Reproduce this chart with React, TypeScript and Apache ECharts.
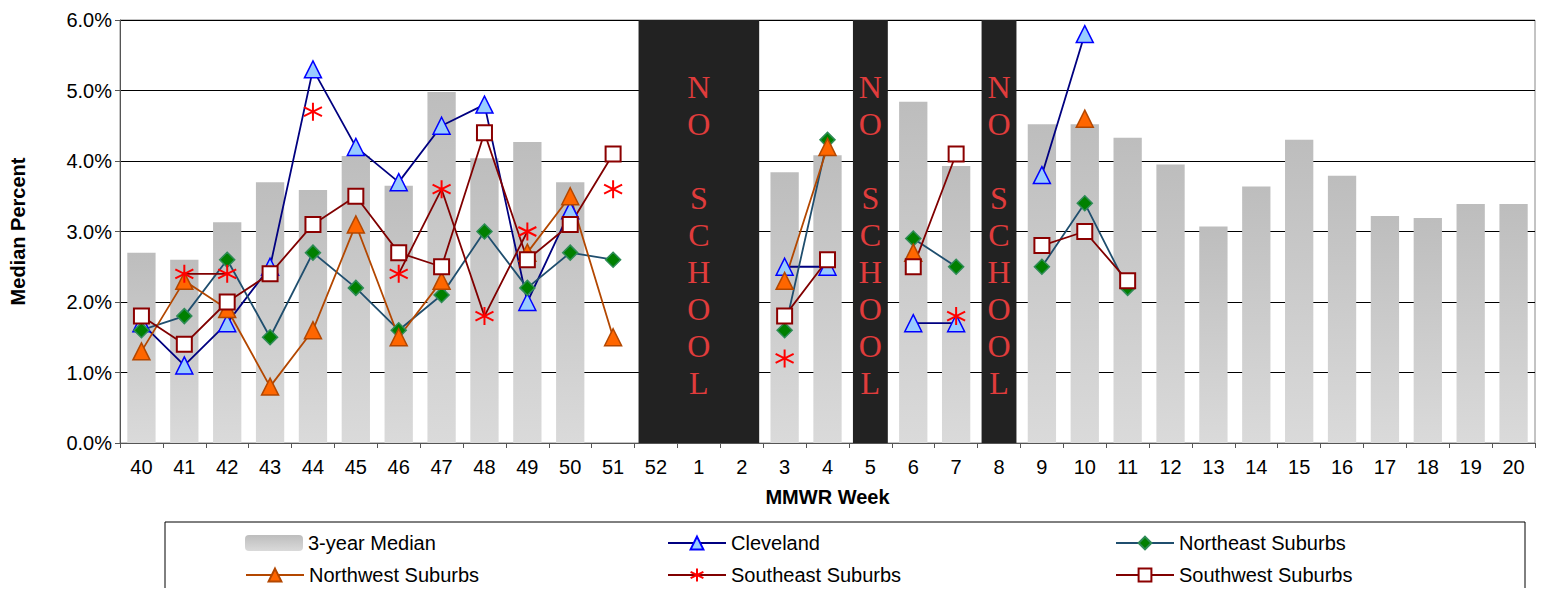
import React, { useEffect, useRef } from "react";
import * as echarts from "echarts";

const weeks = ["40","41","42","43","44","45","46","47","48","49","50","51","52","1","2","3","4","5","6","7","8","9","10","11","12","13","14","15","16","17","18","19","20"];
const median = [2.7,2.6,3.13,3.7,3.59,4.07,3.65,4.98,4.04,4.27,3.7,null,null,null,null,3.84,4.08,null,4.84,3.93,null,4.52,4.52,4.33,3.95,3.07,3.64,4.3,3.79,3.22,3.19,3.39,3.39];
const cleveland = [1.7,1.1,1.7,2.5,5.3,4.2,3.7,4.5,4.8,2.0,3.3,null,null,null,null,2.5,2.5,null,1.7,1.7,null,3.8,5.8,null,null,null,null,null,null,null,null,null,null];
const northeast = [1.6,1.8,2.6,1.5,2.7,2.2,1.6,2.1,3.0,2.2,2.7,2.6,null,null,null,1.6,4.3,null,2.9,2.5,null,2.5,3.4,2.2,null,null,null,null,null,null,null,null,null];
const northwest = [1.3,2.3,1.9,0.8,1.6,3.1,1.5,2.3,null,2.7,3.5,1.5,null,null,null,2.3,4.2,null,2.7,null,null,null,4.6,null,null,null,null,null,null,null,null,null,null];
const southeast = [null,2.4,2.4,null,4.7,null,2.4,3.6,1.8,3.0,null,3.6,null,null,null,1.2,null,null,null,1.8,null,null,null,null,null,null,null,null,null,null,null,null,null];
const southwest = [1.8,1.4,2.0,2.4,3.1,3.5,2.7,2.5,4.4,2.6,3.1,4.1,null,null,null,1.8,2.6,null,2.5,4.1,null,2.8,3.0,2.3,null,null,null,null,null,null,null,null,null];
const noSchool = [[12,14],[17,17],[20,20]];

const font = "Liberation Sans, Arial, sans-serif";

export default function App() {
  const ref = useRef<HTMLDivElement>(null);
  useEffect(() => {
    const chart = echarts.init(ref.current!, null, { renderer: "svg" });
    const grad = new echarts.graphic.LinearGradient(0, 0, 0, 1, [
      { offset: 0, color: "#bdbdbd" }, { offset: 1, color: "#dadada" }]);
    const lineS = (name: string, data: any[], symbol: string, size: number, fill: string, border: string, lineColor: string, bw = 1.5) => ({
      name, type: "line", data, symbol, symbolSize: size, connectNulls: false, z: 5,
      lineStyle: { color: lineColor, width: 1.8 },
      itemStyle: { color: fill, borderColor: border, borderWidth: bw },
    });
    const star = "path://M0,-10L0,10M-8.66,-5L8.66,5M-8.66,5L8.66,-5";
    const legPos: [string, number, number][] = [
      ["3-year Median", 232, 520], ["Northwest Suburbs", 232, 552],
      ["Cleveland", 654, 520], ["Southeast Suburbs", 654, 552],
      ["Northeast Suburbs", 1102, 520], ["Southwest Suburbs", 1102, 552],
    ];
    chart.setOption({
      animation: false,
      grid: { left: 112, right: 6, top: 12, bottom: 145, show: true, borderColor: "#888", borderWidth: 1, outerBoundsMode: "none", containLabel: false },
      xAxis: {
        type: "category", data: weeks, name: "MMWR Week", nameLocation: "middle", nameGap: 44,
        nameTextStyle: { fontFamily: font, fontWeight: "bold", fontSize: 20, color: "#000" },
        axisLine: { lineStyle: { color: "#555" } }, axisTick: { show: true, lineStyle: { color: "#555" } },
        axisLabel: { fontFamily: font, fontSize: 20, color: "#000", margin: 14 },
      },
      yAxis: {
        type: "value", min: 0, max: 6, interval: 1, name: "Median Percent", nameLocation: "middle", nameGap: 92,
        nameTextStyle: { fontFamily: font, fontWeight: "bold", fontSize: 20, color: "#000" },
        axisLine: { show: true, lineStyle: { color: "#555" } }, axisTick: { show: true, lineStyle: { color: "#555" } },
        axisLabel: { fontFamily: font, fontSize: 20, color: "#000", formatter: (v: number) => v.toFixed(1) + "%" },
        splitLine: { lineStyle: { color: "#000", width: 1 } },
      },
      legend: legPos.map(([n, l, t]) => ({
        data: [n], left: l, top: t, itemWidth: 58, itemHeight: 16, itemGap: 4,
        textStyle: { fontFamily: font, fontSize: 20, color: "#000" },
      })),
      graphic: [{ type: "rect", shape: { x: 157, y: 514, width: 1360, height: 76 }, style: { fill: "none", stroke: "#000", lineWidth: 1 } }],
      series: [
        { name: "3-year Median", type: "bar", data: median, barWidth: "66%", itemStyle: { color: grad }, z: 1 },
        {
          name: "noschool", type: "custom", data: noSchool, encode: { x: [0, 1] }, z: 3,
          renderItem: (params: any, api: any) => {
            const a = api.coord([api.value(0), 6]);
            const b = api.coord([api.value(1), 0]);
            const bw = api.size([1, 0])[0];
            const x = a[0] - bw / 2 + 4;
            const w = b[0] - a[0] + bw - 8;
            return {
              type: "group",
              children: [
                { type: "rect", shape: { x, y: a[1], width: w, height: b[1] - a[1] }, style: { fill: "#222" } },
                { type: "text", x: x + w / 2, y: a[1] + 48, style: { text: "N\nO\n\nS\nC\nH\nO\nO\nL", fill: "#e03c3c", font: "32px 'Liberation Serif', serif", lineHeight: 37, align: "center", verticalAlign: "top" } },
              ],
            };
          },
        },
        lineS("Cleveland", cleveland, "triangle", 17, "#99ccff", "#0000ff", "#000080"),
        lineS("Northeast Suburbs", northeast, "diamond", 15, "#008000", "#2e8b57", "#1f4e6e"),
        lineS("Northwest Suburbs", northwest, "triangle", 17, "#ff6600", "#b34700", "#b34700"),
        lineS("Southeast Suburbs", southeast, star, 18, "#ff0000", "#ff0000", "#800000", 2),
        lineS("Southwest Suburbs", southwest, "rect", 15, "#ffffff", "#8b0000", "#800000", 2),
      ],
    });
    return () => chart.dispose();
  }, []);
  return <div ref={ref} style={{ width: 1533, height: 580 }} />;
}
